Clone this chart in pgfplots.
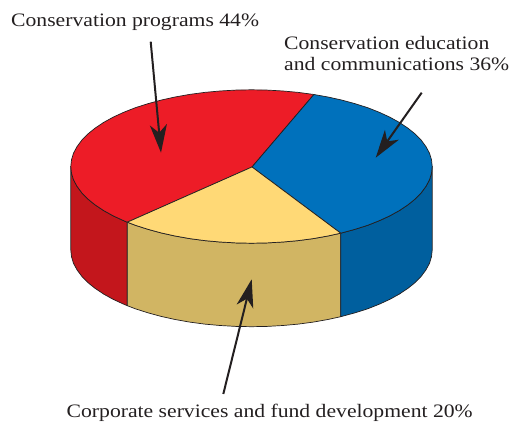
\documentclass[border=0pt]{standalone}
\usepackage{fontspec}
\setmainfont[FakeStretch=1.14]{Liberation Serif}
\usepackage{pgfplots}
\pgfplotsset{compat=1.18}
\usetikzlibrary{arrows.meta}
\definecolor{cred}{HTML}{ED1C27}
\definecolor{cdred}{HTML}{C3161C}
\definecolor{cblue}{HTML}{0071BC}
\definecolor{cdblue}{HTML}{005F9E}
\definecolor{cyel}{HTML}{FFD976}
\definecolor{ctan}{HTML}{D1B563}
\definecolor{cink}{HTML}{231F20}
\begin{document}
\begin{tikzpicture}
\path[use as bounding box] (0,0) rectangle (512pt,422pt);
\begin{axis}[
  width=512pt,height=422pt,scale only axis,
  xmin=0,xmax=512,ymin=0,ymax=422,y dir=reverse,
  hide axis,clip=false,
  every axis plot/.append style={no markers,line width=0.7pt,line join=round,draw=cink},
]
% sides
\addplot[fill=cdred] coordinates {
(70.8,166.5)(71.5,173.2)(73.5,179.8)(77.0,186.3)(81.7,192.7)(87.7,198.9)(95.0,204.8)(103.5,210.5)(113.1,215.8)(123.7,220.7)(127.3,222.2)
(127.3,305.7)(123.7,304.2)(113.1,299.3)(103.5,294.0)(95.0,288.3)(87.7,282.4)(81.7,276.2)(77.0,269.8)(73.5,263.3)(71.5,256.7)(70.8,250.0)
} -- cycle;
\addplot[fill=ctan] coordinates {
(127.3,222.2)(135.4,225.3)(147.9,229.3)(161.1,232.9)(175.1,236.0)(189.7,238.6)(204.7,240.6)(220.1,242.0)(235.7,242.9)(251.5,243.2)(267.3,242.9)(282.9,242.0)(298.3,240.6)(313.3,238.6)(327.9,236.0)(340.7,233.2)
(340.7,316.7)(327.9,319.5)(313.3,322.1)(298.3,324.1)(282.9,325.5)(267.3,326.4)(251.5,326.7)(235.7,326.4)(220.1,325.5)(204.7,324.1)(189.7,322.1)(175.1,319.5)(161.1,316.4)(147.9,312.8)(135.4,308.8)(127.3,305.7)
} -- cycle;
\addplot[fill=cdblue] coordinates {
(340.7,233.2)(355.1,229.3)(367.7,225.3)(379.3,220.7)(389.9,215.8)(399.5,210.5)(408.0,204.8)(415.3,198.9)(421.3,192.7)(426.0,186.3)(429.5,179.8)(431.5,173.2)(432.2,166.5)
(432.2,250.0)(431.5,256.7)(429.5,263.3)(426.0,269.8)(421.3,276.2)(415.3,282.4)(408.0,288.3)(399.5,294.0)(389.9,299.3)(379.3,304.2)(367.7,308.8)(355.1,312.8)(340.7,316.7)
} -- cycle;
% top
\addplot[fill=cred] coordinates {
(252,167)(127.3,222.2)(123.7,220.7)(113.1,215.8)(103.5,210.5)(95.0,204.8)(87.7,198.9)(81.7,192.7)(77.0,186.3)(73.5,179.8)(71.5,173.2)(70.8,166.5)(71.5,159.8)(73.5,153.2)(77.0,146.7)(81.7,140.3)(87.7,134.1)(95.0,128.2)(103.5,122.5)(113.1,117.2)(123.7,112.3)(135.4,107.7)(147.9,103.7)(161.1,100.1)(175.1,97.0)(189.7,94.4)(204.7,92.4)(220.1,91.0)(235.7,90.1)(251.5,89.8)(267.3,90.1)(282.9,91.0)(298.3,92.4)(313.9,94.5)
} -- cycle;
\addplot[fill=cblue] coordinates {
(252,167)(313.9,94.5)(327.9,97.0)(341.9,100.1)(355.1,103.7)(367.7,107.7)(379.3,112.3)(389.9,117.2)(399.5,122.5)(408.0,128.2)(415.3,134.1)(421.3,140.3)(426.0,146.7)(429.5,153.2)(431.5,159.8)(432.2,166.5)(431.5,173.2)(429.5,179.8)(426.0,186.3)(421.3,192.7)(415.3,198.9)(408.0,204.8)(399.5,210.5)(389.9,215.8)(379.3,220.7)(367.7,225.3)(355.1,229.3)(340.7,233.2)
} -- cycle;
\addplot[fill=cyel] coordinates {
(252,167)(340.7,233.2)(327.9,236.0)(313.3,238.6)(298.3,240.6)(282.9,242.0)(267.3,242.9)(251.5,243.2)(235.7,242.9)(220.1,242.0)(204.7,240.6)(189.7,238.6)(175.1,236.0)(161.1,232.9)(147.9,229.3)(135.4,225.3)(127.3,222.2)
} -- cycle;
% arrows
\addplot[line width=2pt,line cap=butt,-{Stealth[length=28pt,width=17pt,inset=8pt]}] coordinates {(150.7,41.7)(161,152.7)};
\addplot[line width=2pt,line cap=butt,-{Stealth[length=28pt,width=17pt,inset=8pt]}] coordinates {(421.7,92.7)(375.7,157.7)};
\addplot[line width=2pt,line cap=butt,-{Stealth[length=28pt,width=17pt,inset=8pt]}] coordinates {(223.3,394)(251.7,279.3)};
% labels
\node[anchor=base west,inner sep=0pt,text=cink,font=\fontsize{19}{21}\selectfont] at (axis cs:11,27) {Conservation programs 44\%};
\node[anchor=base west,inner sep=0pt,text=cink,font=\fontsize{19}{21}\selectfont] at (axis cs:284,50) {Conservation education};
\node[anchor=base west,inner sep=0pt,text=cink,font=\fontsize{19}{21}\selectfont] at (axis cs:284,71) {and communications 36\%};
\node[anchor=base west,inner sep=0pt,text=cink,font=\fontsize{19}{21}\selectfont] at (axis cs:66.5,417.3) {Corporate services and fund development 20\%};
\end{axis}
\end{tikzpicture}
\end{document}
